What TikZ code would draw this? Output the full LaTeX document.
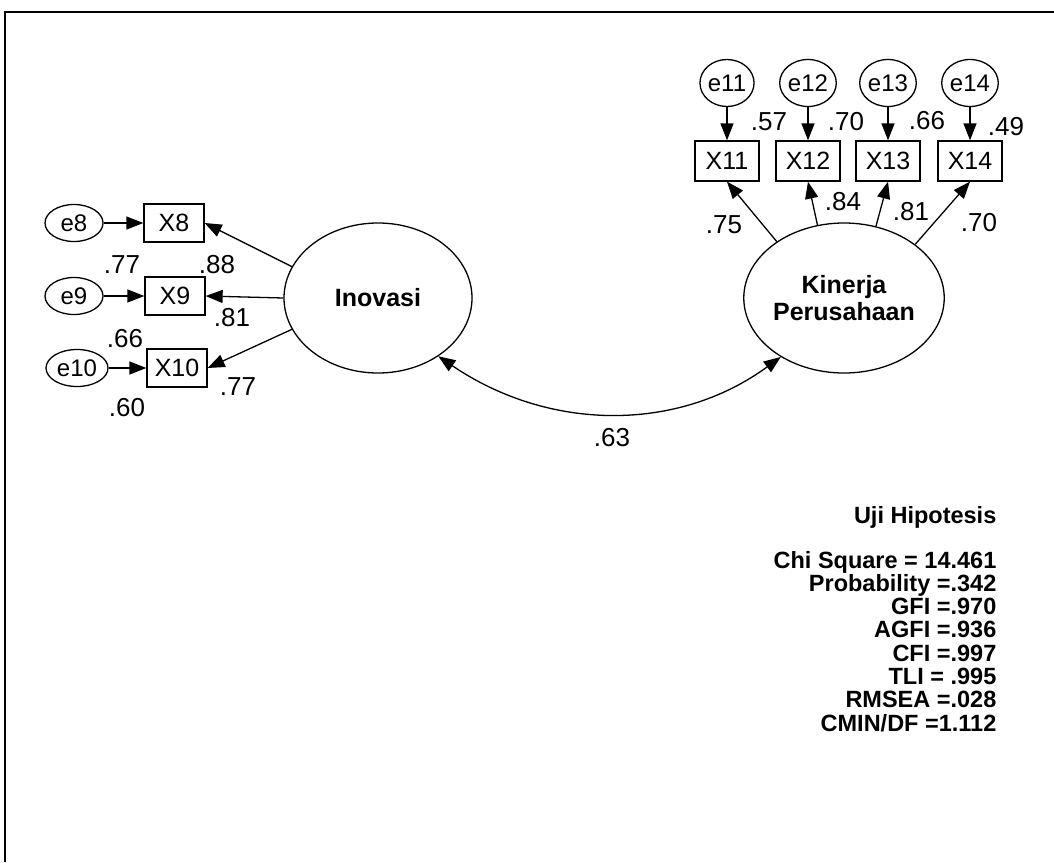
\documentclass[tikz,border=0pt]{standalone}
\usepackage{fontspec}
\setmainfont{Liberation Sans}
\usetikzlibrary{arrows.meta,shapes.geometric}

\begin{document}
\begin{tikzpicture}[x=1pt,y=-1pt,line width=1.3pt,
    lat/.style={draw,ellipse,minimum width=188pt,minimum height=150pt,inner sep=0pt,
      align=center,font=\fontsize{25}{27}\selectfont\bfseries},
    obs/.style={draw,rectangle,minimum width=60pt,minimum height=38pt,inner sep=0pt,
      font=\fontsize{25}{26}\selectfont},
    err/.style={draw,ellipse,minimum width=58pt,minimum height=37pt,inner sep=0pt,
      font=\fontsize{24}{24}\selectfont},
    errtop/.style={err,minimum width=54pt,minimum height=47pt},
    lbl/.style={inner sep=0pt,font=\fontsize{26}{26}\selectfont},
    stat/.style={inner sep=0pt,anchor=base east,font=\fontsize{23.5}{23}\selectfont\bfseries},
    arr/.style={-{Triangle[length=17pt,width=13pt]}}]
  \useasboundingbox (0,0) rectangle (1054,862);
  % frame
  \draw[line width=1.6pt] (5,862) -- (5,12) -- (1054,12);

  % latent variables
  \node[lat] (inov) at (378,298) {Inovasi};
  \node[lat] (kin) at (844,298) {Kinerja\\Perusahaan};

  % indicators of Inovasi
  \node[err] (e8) at (74,223) {e8};
  \node[obs] (x8) at (174,223) {X8};
  \node[err] (e9) at (74,296) {e9};
  \node[obs] (x9) at (175,296) {X9};
  \node[err,minimum width=62pt] (e10) at (77,368) {e10};
  \node[obs] (x10) at (177,368) {X10};
  \draw[arr] (e8) -- (x8);
  \draw[arr] (e9) -- (x9);
  \draw[arr] (e10) -- (x10);
  \draw[arr] (inov.160) -- (x8.east);
  \draw[arr] (inov.west) -- (x9.east);
  \draw[arr] (inov.200) -- (x10.east);

  % indicators of Kinerja Perusahaan
  \foreach \n/\x in {11/727,12/808,13/888,14/970} {
    \node[errtop] (e\n) at (\x,83) {e\n};
    \node[obs,minimum width=64pt,minimum height=40pt] (x\n) at (\x,161) {X\n};
    \draw[arr] (e\n) -- (x\n);
  }
  \draw[arr] (kin.140) -- (x11.south);
  \draw[arr] (kin.110) -- (x12.south);
  \draw[arr] (kin.66) -- (x13.south);
  \draw[arr] (kin.37) -- (x14.south);

  % covariance
  \draw[{Triangle[length=17pt,width=13pt]}-{Triangle[length=17pt,width=13pt]}]
    (inov.-44) .. controls (550,432) and (678,432) .. (kin.223);

  % estimates
  \node[lbl] (l8) at (217,265) {.88};
  \node[lbl] (l9) at (232,318) {.81};
  \node[lbl] (l10) at (238,387) {.77};
  \node[lbl] (r8) at (122,265) {.77};
  \node[lbl] (r9) at (125,339) {.66};
  \node[lbl] (r10) at (127,408) {.60};
  \node[lbl] (r11) at (769,122) {.57};
  \node[lbl] (r12) at (846,122) {.70};
  \node[lbl] (r13) at (927,121) {.66};
  \node[lbl] (r14) at (1006,127) {.49};
  \node[lbl] (l11) at (724,225) {.75};
  \node[lbl] (l12) at (843,202) {.84};
  \node[lbl] (l13) at (911,212) {.81};
  \node[lbl] (l14) at (979,223) {.70};
  \node[lbl] (cov) at (612,438) {.63};

  % fit statistics
  \node[stat] (uji) at (997,523) {Uji Hipotesis};
  \foreach \t [count=\i] in {Chi Square = 14.461,Probability =.342,GFI =.970,
      AGFI =.936,CFI =.997,TLI = .995,RMSEA =.028,CMIN/DF =1.112}
    \node[stat] (s\i) at (997,{568+23.3*(\i-1)}) {\t};
\end{tikzpicture}
\end{document}
